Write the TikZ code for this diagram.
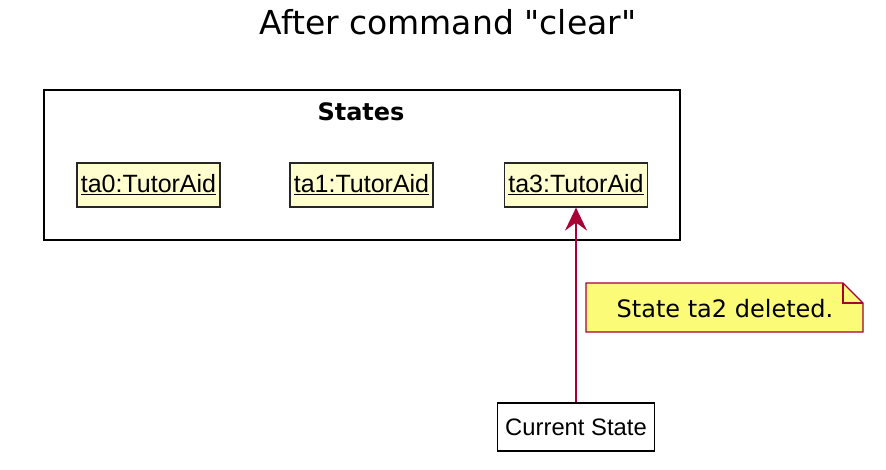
\documentclass[tikz,border=0pt]{standalone}
\usepackage{fontspec}
\setmainfont{Liberation Sans}
\newfontfamily\lucida{DejaVu Sans}
\usetikzlibrary{arrows.meta}
\definecolor{objfill}{HTML}{FEFECE}
\definecolor{notefill}{HTML}{FBFB77}
\definecolor{plum}{HTML}{A80036}
\begin{document}
\begin{tikzpicture}[x=1pt,y=-1pt,
  obj/.style={draw=black!85,fill=objfill,line width=1.2pt,minimum width=143pt,minimum height=44pt,inner sep=0pt,font=\fontsize{25}{29}\selectfont},
  cur/.style={draw=black,fill=white,line width=1.2pt,minimum width=157pt,minimum height=48pt,inner sep=0pt,font=\fontsize{23.8}{28}\selectfont},
  conn/.style={color=plum,line width=2pt,-{Stealth[length=23pt,width=22pt,inset=8pt]}}]
\useasboundingbox (0,0) rectangle (886,469);
\fill[white] (0,0) rectangle (886,469);
\node (title) at (448,22) {\lucida\fontsize{33}{38}\selectfont After command "clear"};
\draw[line width=2.5pt] (44,90) rectangle (680,240);
\node[font=\lucida\bfseries\fontsize{24}{28}\selectfont] (states) at (361,112) {States};
\node[obj] (ta0) at (148.5,185) {\underline{ta0:TutorAid}};
\node[obj] (ta1) at (361.5,185) {\underline{ta1:TutorAid}};
\node[obj] (ta3) at (576,185) {\underline{ta3:TutorAid}};
\node[cur] (cs) at (576,427) {Current State};
\draw[conn] (cs.north) -- (ta3.south);
\draw[plum,fill=notefill,line width=1.2pt] (586,283) -- (843,283) -- (863,303) -- (863,332) -- (586,332) -- cycle;
\draw[plum,line width=1.2pt] (843,283) -- (843,303) -- (863,303);
\node[font=\lucida\fontsize{24}{28}\selectfont] (note) at (725,309) {State ta2 deleted.};
\end{tikzpicture}
\end{document}
